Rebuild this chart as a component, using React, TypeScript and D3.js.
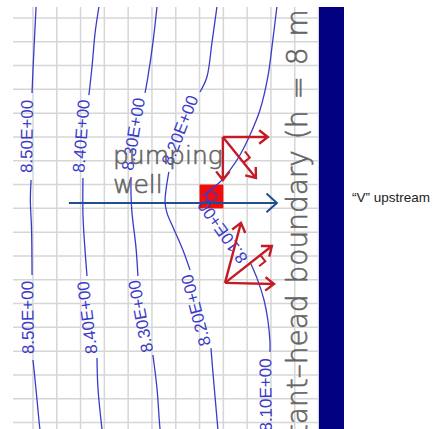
import React from 'react';
import * as d3 from 'd3';

type Pt = [number, number];

const W = 436;
const H = 429;

// Model grid, in cell units
const colLines = d3.range(0, 13);
const rowLines = d3.range(0, 18);
const xExtent: Pt = [-0.84, 12.02];
const yExtent: Pt = [-0.46, 17.27];

// Hydraulic head contours (m); each one is broken into pieces where its labels sit
const headLevels = [8.5, 8.4, 8.3, 8.2, 8.1];

const head850: Pt[][] = [
  [[0.13, -0.46], [0.06, 0.92], [0, 2.18], [-0.04, 3.15]],
  [[-0.08, 6.81], [-0.11, 7.65], [-0.06, 8.91], [-0.04, 10.8]],
  [[0, 14.37], [0.08, 15.13], [0.17, 16.05], [0.29, 17.27], [0.35, 17.65]],
];
const head840: Pt[][] = [
  [[2.77, -0.46], [2.61, 0.63], [2.48, 2.06], [2.35, 3.24]],
  [[2.1, 6.72], [2.1, 8.28], [2.18, 9.66], [2.27, 10.84]],
  [[2.69, 14.29], [2.73, 15.55], [2.9, 17.27], [2.95, 17.65]],
];
const head830: Pt[][] = [
  [[5.21, -0.46], [5.04, 1.05], [4.83, 2.48], [4.71, 3.15]],
  [[4.12, 6.68], [4.12, 7.44], [4.16, 8.19], [4.33, 9.66], [4.41, 10.84]],
  [[5.04, 14.16], [5.21, 15.55], [5.34, 17.27], [5.4, 17.65]],
];
const head820: Pt[][] = [
  [[7.73, -0.46], [7.52, 1.05], [7.31, 2.48], [7.02, 3.11]],
  [[5.71, 6.47], [5.59, 7.23], [5.55, 7.73], [5.63, 8.19], [5.88, 8.78], [6.3, 9.75], [6.6, 10.59]],
  [[7.48, 13.87], [7.56, 14.87], [7.77, 17.27], [7.8, 17.65]],
];
const head810: Pt[][] = [
  [[10.25, -0.46], [10.08, 0.92], [9.87, 2.48], [9.54, 3.87], [9.12, 4.92], [8.7, 5.76], [8.28, 6.39], [7.86, 6.89], [7.44, 7.23], [7.14, 7.48]],
  [[9.12, 10.25], [9.41, 10.92], [9.71, 11.85], [9.87, 12.69], [9.96, 13.61], [9.96, 14.03]],
  [[10.0, 17.65], [10.04, 18.57]],
];
const headPieces = [head850, head840, head830, head820, head810];

// Pumping well cell and the small closed contour inside it
const wellCell: Pt = [7, 7];
const wellLoop = { cx: 7.5, cy: 7.5, r: 0.21 };

// Regional flow direction
const flowArrow: [Pt, Pt] = [[1.51, 7.77], [10.25, 7.77]];

// Gradient components on both limbs of the "V"
const upperVectors: [Pt, Pt][] = [
  [[7.98, 5.0], [9.87, 5.0]],
  [[7.98, 5.0], [7.98, 6.81]],
  [[7.98, 5.0], [9.37, 6.72]],
];
const lowerVectors: [Pt, Pt][] = [
  [[8.07, 11.13], [10.13, 11.18]],
  [[8.07, 11.13], [8.74, 8.61]],
  [[8.07, 11.13], [10.04, 9.58]],
];
// Right-angle marks on the resultant vectors: [distance along, size, side]
const rightAngleMarks: { vec: [Pt, Pt]; at: number; size: number; side: number }[] = [
  { vec: upperVectors[2], at: 25, size: 8, side: -1 },
  { vec: lowerVectors[2], at: 37, size: 8, side: 1 },
];

const wellLabel = ['pumping', 'well'];
const boundaryLabel = 'constant\u2013head boundary (h = 8 m)';
const sideNote = '\u201cV\u201d upstream';

const PLOT = { left: 13, right: 319, top: 7, bottom: 429 };
const CONTOUR = '#3b3bc9';
const RED = '#c41c26';
const FLOW = '#1f4f8c';
const NAVY = '#000080';
const NOTE = '#646464';

const fmtHead = (v: number) => {
  const [m, e] = v.toExponential(2).split('e');
  const n = Number(e);
  return `${m}E${n < 0 ? '-' : '+'}${String(Math.abs(n)).padStart(2, '0')}`;
};

function chevron(from: Pt, tip: Pt, len: number, ang: number) {
  const a = Math.atan2(tip[1] - from[1], tip[0] - from[0]);
  const p1 = [tip[0] - len * Math.cos(a - ang), tip[1] - len * Math.sin(a - ang)];
  const p2 = [tip[0] - len * Math.cos(a + ang), tip[1] - len * Math.sin(a + ang)];
  return `M${p1[0]},${p1[1]}L${tip[0]},${tip[1]}L${p2[0]},${p2[1]}`;
}

export default function App() {
  const x = d3.scaleLinear().domain(xExtent).range([PLOT.left, PLOT.right]);
  const y = d3.scaleLinear().domain(yExtent).range([PLOT.top, PLOT.bottom]);
  const px = (p: Pt): Pt => [x(p[0]), y(p[1])];

  const line = d3
    .line<Pt>()
    .x((d) => x(d[0]))
    .y((d) => y(d[1]))
    .curve(d3.curveCatmullRom.alpha(0.5));

  // Labels sit in the gaps between contour pieces, reading upward along the line
  const labels = headPieces.flatMap((pieces, i) =>
    pieces.slice(0, -1).map((piece, j) => {
      const p = px(piece[piece.length - 1]);
      const q = px(pieces[j + 1][0]);
      const [a, b] = p[1] > q[1] ? [p, q] : [q, p];
      const ang = (Math.atan2(b[1] - a[1], b[0] - a[0]) * 180) / Math.PI;
      return {
        key: `${i}-${j}`,
        cx: (p[0] + q[0]) / 2,
        cy: (p[1] + q[1]) / 2,
        ang,
        text: fmtHead(headLevels[i]),
      };
    })
  );

  const vectorPaths = [...upperVectors, ...lowerVectors].map(([f, t]) => {
    const a = px(f);
    const b = px(t);
    return `M${a[0]},${a[1]}L${b[0]},${b[1]}` + chevron(a, b, 11, (38 * Math.PI) / 180);
  });

  const markPaths = rightAngleMarks.map(({ vec, at, size, side }) => {
    const a = px(vec[0]);
    const b = px(vec[1]);
    const L = Math.hypot(b[0] - a[0], b[1] - a[1]);
    const u = [(b[0] - a[0]) / L, (b[1] - a[1]) / L];
    const n = [-u[1] * side, u[0] * side];
    const A = [a[0] + u[0] * at + n[0] * size, a[1] + u[1] * at + n[1] * size];
    const B = [a[0] + u[0] * (at + size) + n[0] * size, a[1] + u[1] * (at + size) + n[1] * size];
    const C = [a[0] + u[0] * (at + size), a[1] + u[1] * (at + size)];
    return `M${A[0]},${A[1]}L${B[0]},${B[1]}L${C[0]},${C[1]}`;
  });

  const fa = px(flowArrow[0]);
  const fb = px(flowArrow[1]);

  return (
    <svg
      width={W}
      height={H}
      style={{ position: 'absolute', left: 0, top: 0, background: '#fff' }}
      fontFamily="'DejaVu Sans', sans-serif"
    >
      <defs>
        <clipPath id="plot-clip">
          <rect x={PLOT.left} y={PLOT.top} width={PLOT.right - PLOT.left} height={PLOT.bottom - PLOT.top} />
        </clipPath>
      </defs>
      <rect width={W} height={H} fill="#fff" />
      <g clipPath="url(#plot-clip)">
        {/* model grid */}
        <g stroke="#d6d6d6" strokeWidth={1.5}>
          {colLines.map((c) => (
            <line key={`c${c}`} x1={x(c)} x2={x(c)} y1={PLOT.top} y2={PLOT.bottom} />
          ))}
          {rowLines.map((r) => (
            <line key={`r${r}`} x1={PLOT.left} x2={PLOT.right} y1={y(r)} y2={y(r)} />
          ))}
        </g>

        {/* pumping well cell */}
        <rect
          x={x(wellCell[0])}
          y={y(wellCell[1])}
          width={x(wellCell[0] + 1) - x(wellCell[0])}
          height={y(wellCell[1] + 1) - y(wellCell[1])}
          fill="#f20d0d"
        />

        {/* head contours */}
        <g fill="none" stroke={CONTOUR} strokeWidth={1.3}>
          {headPieces.flatMap((pieces, i) =>
            pieces.map((piece, j) => <path key={`${i}-${j}`} d={line(piece) ?? ''} />)
          )}
          <circle cx={x(wellLoop.cx)} cy={y(wellLoop.cy)} r={x(wellLoop.r) - x(0)} />
        </g>
        <g fill={CONTOUR} fontFamily="'Liberation Sans', Arial, sans-serif" fontSize={17}>
          {labels.map((l) => (
            <text
              key={l.key}
              textAnchor="middle"
              transform={`translate(${l.cx},${l.cy}) rotate(${l.ang})`}
              dy={1}
            >
              {l.text}
            </text>
          ))}
        </g>

        {/* annotations */}
        <g fill={NOTE} stroke={NOTE} strokeWidth={0.6} fontSize={25} fontWeight={200}>
          <text x={113} y={164}>{wellLabel[0]}</text>
          <text x={113} y={193}>{wellLabel[1]}</text>
        </g>
        <text
          fill={NOTE}
          stroke={NOTE}
          strokeWidth={0.6}
          fontSize={28}
          fontWeight={200}
          wordSpacing={2}
          transform={`translate(${PLOT.right - 12},500) rotate(-90)`}
        >
          {boundaryLabel}
        </text>

        <g fill="none" stroke={FLOW} strokeWidth={2}>
          <path d={`M${fa[0]},${fa[1]}L${fb[0]},${fb[1]}`} />
          <path d={chevron(fa, fb, 14, (42 * Math.PI) / 180)} />
        </g>

        <g fill="none" stroke={RED} strokeWidth={2.4} strokeLinejoin="miter">
          {vectorPaths.map((d, i) => (
            <path key={i} d={d} />
          ))}
          {markPaths.map((d, i) => (
            <path key={`m${i}`} d={d} strokeWidth={2} />
          ))}
        </g>
      </g>

      {/* constant-head boundary */}
      <rect x={PLOT.right} y={PLOT.top} width={25} height={PLOT.bottom - PLOT.top} fill={NAVY} />

      <text
        x={352}
        y={202}
        fontFamily="'Liberation Sans', Arial, sans-serif"
        fontSize={13.5}
        fill="#222"
      >
        {sideNote}
      </text>
    </svg>
  );
}
